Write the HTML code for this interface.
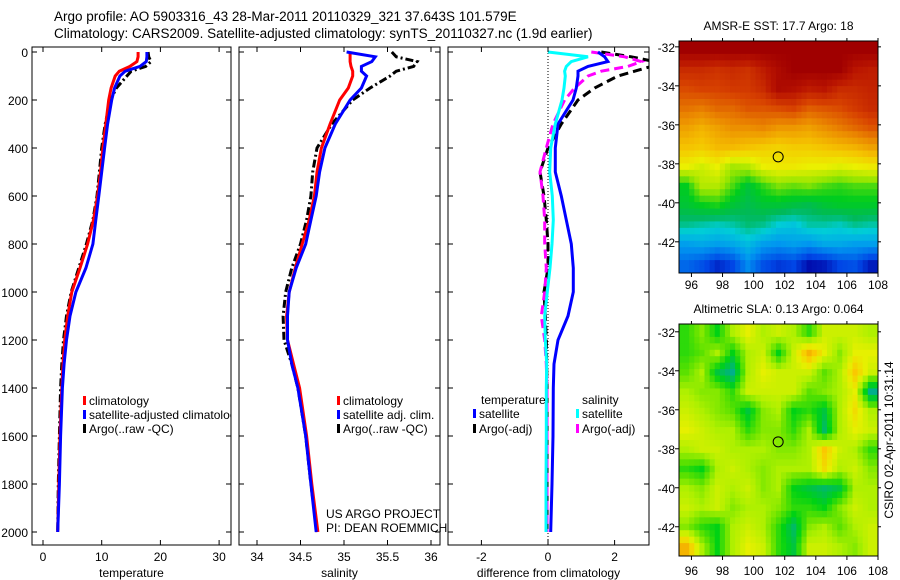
<!DOCTYPE html>
<html><head><meta charset="utf-8"><style>
html,body{margin:0;padding:0;background:#fff}
svg{display:block;font-family:"Liberation Sans","DejaVu Sans",sans-serif}
</style></head><body>
<svg id="fig" width="900" height="580" viewBox="0 0 900 580" xmlns="http://www.w3.org/2000/svg">
<defs>
<clipPath id="c1"><rect x="32" y="47" width="199" height="498"/></clipPath>
<clipPath id="c2"><rect x="239" y="47" width="201" height="498"/></clipPath>
<clipPath id="c3"><rect x="448" y="47" width="201" height="498"/></clipPath>
</defs>
<text x="54" y="21" font-size="13.5">Argo profile: AO 5903316_43 28-Mar-2011 20110329_321 37.643S 101.579E</text>
<text x="54" y="38" font-size="13.5">Climatology: CARS2009. Satellite-adjusted climatology: synTS_20110327.nc (1.9d earlier)</text>
<g id="g1"></g>
<g id="g2"></g>
<g id="g3"></g>
<g id="m1"></g>
<g id="m2"></g>
<text transform="translate(893,440) rotate(-90)" text-anchor="middle" font-size="12">CSIRO 02-Apr-2011 10:31:14</text>
</svg>
<script>
const depths = [0,20,40,60,80,100,150,200,300,400,500,600,700,800,900,1000,1100,1200,1300,1400,1600,1800,2000];
const tempClim = [16.2,16.2,16,14.8,13,12.3,11.6,11.2,10.7,10.2,9.8,9.3,8.6,7.6,6.3,4.9,4.2,3.7,3.4,3.2,2.9,2.7,2.5];
const tempSat = [17.7,17.7,17.6,16.5,14,13.1,12.2,11.7,11,10.5,10,9.5,9,8.5,7.3,5.6,4.6,4.0,3.6,3.3,3.0,2.8,2.5];
const tempArgo = [17.9,18.0,18.4,17.5,15,14.3,12.5,11.5,10.6,10.0,9.6,9.2,8.5,7.4,6.1,4.8,4.0,3.5,3.2,3.0,2.8,2.6,2.5];
const salClim = [35.07,35.07,35.07,35.08,35.1,35.1,35.05,34.95,34.84,34.74,34.69,34.66,34.6,34.52,34.44,34.37,34.34,34.35,34.42,34.49,34.57,34.63,34.70];
const salSat = [35.03,35.36,35.32,35.2,35.2,35.26,35.2,35.07,34.9,34.78,34.72,34.68,34.62,34.56,34.45,34.37,34.35,34.35,34.40,34.47,34.56,34.62,34.68];
const salArgo = [35.55,35.6,35.84,35.8,35.6,35.53,35.3,35.1,34.86,34.69,34.64,34.62,34.57,34.5,34.4,34.33,34.3,34.31,34.4,34.47,34.56,34.62,34.69];
const tempSatDiff = [1.5,1.7,1.8,1.2,0.9,0.9,0.85,0.75,0.3,0.22,0.22,0.4,0.55,0.7,0.76,0.76,0.6,0.3,0.18,0.16,0.15,0.12,0.08];
const tempArgoDiff = [1.6,2.5,3.2,3.1,2.6,2.1,1.4,0.9,0.4,0.0,-0.24,-0.12,-0.05,0.0,0.0,-0.12,-0.08,-0.05,-0.04,-0.03,-0.03,-0.03,-0.03];
const salSatDiff = [0,1.2,0.7,0.55,0.5,0.52,0.48,0.42,0.22,0.08,0.05,0.13,0.16,0.12,0.06,-0.02,-0.1,-0.08,-0.04,-0.05,-0.05,-0.06,-0.06];
const salArgoDiff = [1.3,2.3,2.8,2.4,1.6,1.2,0.8,0.5,0.15,-0.05,-0.24,-0.15,-0.1,-0.1,-0.05,-0.1,-0.2,-0.1,-0.05,-0.03,-0.03,-0.03,-0.03];
const depthTicks = [0,200,400,600,800,1000,1200,1400,1600,1800,2000];
const tempTicks = [0,10,20,30];
const salTicks = [34,34.5,35,35.5,36];
const diffTicks = [-2,0,2];
const lonTicks = [96,98,100,102,104,106,108];
const latTicks = [-32,-34,-36,-38,-40,-42];
const sstGrid = [
[20,20,20,20,20,20,20,20,20,20,20,20,20],
[19.3,19.3,19.2,19.3,19.2,19.5,19.8,20,20,20,20,19.6,19.5],
[18.9,19,19,19.1,19.1,19.3,19.8,19.7,19.5,19.6,19.3,19.3,19.4],
[18.5,18.4,18.6,18.6,18.8,18.8,18.9,19,18.7,18.8,18.9,19.1,19.3],
[18,17.8,18,18.2,18.2,18.3,18.1,18.1,18,18.2,18.4,18.6,18.8],
[17.6,17.5,17.7,17.7,17.6,17.5,17.4,17.5,17.5,17.6,17.7,17.8,18],
[17,16.8,17,16.5,16.6,17,17.1,17.1,17,17,16.9,17,17.1],
[15.8,16.6,16.6,16.1,15.6,16,16.3,16.2,16.3,16.1,16,16.1,16.1],
[15.6,15.8,15.9,15.6,15.4,15.6,15.6,15.5,15.4,15.6,15.7,15.7,15.7],
[15.1,15,14.9,15,15.2,15.1,14.8,14.7,15,15,14.9,15.1,15],
[14.3,14.4,14.3,14.4,14.6,14.3,14.2,14.3,14.2,14.4,14.4,14.3,14.3],
[13.8,13.6,13.3,13.5,14.1,13.6,13.4,13.5,13.1,13.2,13.5,13.6,13.2]];
const slaGrid = [
[-0.1,0,-0.15,0.05,0.15,0.05,0.1,0.05,-0.1,0.1,0.1,0.1,0.05],
[-0.1,-0.05,0.05,-0.15,0.05,0.1,-0.15,0.1,0.3,0.15,0,0.15,0.15],
[-0.05,0.05,-0.2,-0.3,0.05,0.15,0.1,0.1,0.1,-0.05,0.05,0.25,0.1],
[0.05,0,0,-0.1,0.1,0.1,0.1,0.1,-0.05,0,0.05,0.15,-0.3],
[0.1,0.05,0,-0.05,-0.2,0,0.05,-0.15,-0.1,-0.2,0.05,0.2,0.05],
[0.15,0.1,0.05,0.05,-0.1,0,0,-0.1,0.05,-0.25,0.05,0.15,0.1],
[0.05,0.1,0.1,0.05,0.05,0.05,0,0,0.05,0.25,0.1,0.05,-0.1],
[-0.1,-0.15,0.05,0.1,0.05,0,0.05,0.05,0.05,0.2,0.05,0.1,0],
[0.05,0,0.1,0.05,0.1,0,0.05,-0.15,-0.2,-0.25,-0.2,0.05,0.05],
[0.1,0.05,0.1,0,0.05,0.05,0,-0.1,-0.1,-0.15,0,0.1,0.05],
[0,-0.1,-0.15,0.05,0.1,0.05,-0.1,-0.25,0,0.05,-0.05,0.05,0.1],
[0.3,0.05,-0.15,0.05,0.15,0.1,-0.1,-0.2,0.1,0.1,0.05,0,0.1]];
const argoLon = 101.579, argoLat = -37.643;

const NS="http://www.w3.org/2000/svg";
function mk(parent,tag,attrs,text){const e=document.createElementNS(NS,tag);for(const k in attrs)e.setAttribute(k,attrs[k]);if(text!==undefined)e.textContent=text;parent.appendChild(e);return e;}
const yD = d => 52 + d*0.24;
const xT = v => 43 + v*5.87;
const xS = v => 257 + (v-34)*87;
const xDf = v => 548 + v*33.3;

function panel(g,x0,x1){ mk(g,'rect',{x:x0,y:47,width:x1-x0,height:498,fill:'#fff'}); }
function frame(g,x0,x1,xf,ticks,label,showYLabels){
  const fr=mk(g,'rect',{x:x0,y:47,width:x1-x0,height:498,fill:'none',stroke:'#000','stroke-width':1});
  
  
  depthTicks.forEach(d=>{
    const y=yD(d);
    mk(g,'line',{x1:x0,y1:y,x2:x0+5,y2:y,stroke:'#000'});
    mk(g,'line',{x1:x1-5,y1:y,x2:x1,y2:y,stroke:'#000'});
    if(showYLabels){
      const t=mk(g,'text',{x:28,y:y+5,'text-anchor':'end','font-size':12},String(d));
      
      
    }
  });
  ticks.forEach(v=>{
    const x=xf(v);
    mk(g,'line',{x1:x,y1:545,x2:x,y2:540,stroke:'#000'});
    mk(g,'line',{x1:x,y1:47,x2:x,y2:52,stroke:'#000'});
    const t=mk(g,'text',{x:x,y:561,'text-anchor':'middle','font-size':12},String(v));
    
    
  });
  const l=mk(g,'text',{x:(x0+x1)/2,y:577,'text-anchor':'middle','font-size':12},label);
  
  
}
function line(g,vals,xf,color,dash,name,clip){
  const pts=vals.map((v,i)=>xf(v).toFixed(1)+','+yD(depths[i]).toFixed(1)).join(' ');
  const p=mk(g,'polyline',{points:pts,fill:'none',stroke:color,'stroke-width':3,'clip-path':'url(#'+clip+')'});
  if(dash)p.setAttribute('stroke-dasharray',dash);
  
  
}
function legend(g,x,y,color,text,name){
  mk(g,'rect',{x:x,y:y-8,width:3,height:9,fill:color});
  const t=mk(g,'text',{x:x+6,y:y+1,'font-size':12},text);
  
  
}
const g1=document.getElementById('g1');
panel(g1,32,231);
line(g1,tempArgo,xT,'#000','8,3,2,3','argo-temperature-line','c1');
line(g1,tempClim,xT,'#f00',null,'climatology-temperature-line','c1');
line(g1,tempSat,xT,'#00f',null,'satellite-temperature-line','c1');
const lg1=mk(g1,'g',{'clip-path':'url(#c1)'});
legend(lg1,83,404,'#f00','climatology','legend-climatology');
legend(lg1,83,418,'#00f','satellite-adjusted climatology','legend-satellite');
legend(lg1,83,432,'#000','Argo(..raw -QC)','legend-argo');
frame(g1,32,231,xT,tempTicks,'temperature',true);
const g2=document.getElementById('g2');
panel(g2,239,440);
line(g2,salArgo,xS,'#000','8,3,2,3','argo-salinity-line','c2');
line(g2,salClim,xS,'#f00',null,'climatology-salinity-line','c2');
line(g2,salSat,xS,'#00f',null,'satellite-salinity-line','c2');
legend(g2,337,404,'#f00','climatology','legend-climatology');
legend(g2,337,418,'#00f','satellite adj. clim.','legend-satellite');
legend(g2,337,432,'#000','Argo(..raw -QC)','legend-argo');
frame(g2,239,440,xS,salTicks,'salinity',false);
let t=mk(g2,'text',{x:326,y:518,'font-size':12},'US ARGO PROJECT');


t=mk(g2,'text',{x:326,y:532,'font-size':12},'PI: DEAN ROEMMICH');


const g3=document.getElementById('g3');
panel(g3,448,649);
mk(g3,'line',{x1:xDf(0),y1:47,x2:xDf(0),y2:545,stroke:'#000','stroke-dasharray':'1,2'});
line(g3,tempArgoDiff,xDf,'#000','9,5','argo-temperature-diff','c3');
line(g3,salArgoDiff,xDf,'#f0f','9,5','argo-salinity-diff','c3');
line(g3,tempSatDiff,xDf,'#00f',null,'satellite-temperature-diff','c3');
line(g3,salSatDiff,xDf,'#0ff',null,'satellite-salinity-diff','c3');
t=mk(g3,'text',{x:481,y:404,'font-size':12},'temperature');
t=mk(g3,'text',{x:582,y:404,'font-size':12},'salinity');
legend(g3,473,417,'#00f','satellite','legend-temp-satellite');
legend(g3,473,432,'#000','Argo(-adj)','legend-temp-argo');
legend(g3,576,417,'#0ff','satellite','legend-sal-satellite');
legend(g3,576,432,'#f0f','Argo(-adj)','legend-sal-argo');
frame(g3,448,649,xDf,diffTicks,'difference from climatology',false);

function interp(stops,v){
  if(v<=stops[0][0])return stops[0][1];
  for(let i=1;i<stops.length;i++){
    if(v<=stops[i][0]){const a=stops[i-1],b=stops[i],f=(v-a[0])/(b[0]-a[0]);
      return a[1].map((c,k)=>Math.round(c+(b[1][k]-c)*f));}
  }
  return stops[stops.length-1][1];
}
const sstStops=[[13,[0,0,160]],[13.5,[0,70,230]],[14.2,[0,150,240]],[14.8,[0,205,215]],[15.3,[0,185,90]],[15.8,[0,205,30]],[16.4,[150,230,0]],[17,[235,240,0]],[17.6,[245,195,0]],[18.3,[235,135,0]],[19,[215,65,0]],[19.6,[185,20,0]],[20,[160,0,0]]];
const slaStops=[[-0.3,[0,175,140]],[-0.15,[0,210,20]],[-0.05,[90,225,0]],[0.05,[175,240,0]],[0.15,[230,240,0]],[0.25,[250,200,0]],[0.35,[240,160,0]]];
function sample(grid,fr,fc){
  const R=grid.length,C=grid[0].length;
  const r=Math.max(0,Math.min(R-1,fr)),c=Math.max(0,Math.min(C-1,fc));
  const r0=Math.floor(r),c0=Math.floor(c),r1=Math.min(R-1,r0+1),c1=Math.min(C-1,c0+1);
  const a=r-r0,b=c-c0;
  return grid[r0][c0]*(1-a)*(1-b)+grid[r0][c1]*(1-a)*b+grid[r1][c0]*a*(1-b)+grid[r1][c1]*a*b;
}
function map(id,grid,stops,top,latTop,latBot,title,bottomY){
  const g=document.getElementById(id);
  const x0=679,x1=878,bot=top+232;
  const xL=lon=>x0+(lon-95.2)*(x1-x0)/12.8;
  const yL=lat=>top+(latTop-lat)*(bot-top)/(latTop-latBot);
  const R=grid.length,C=grid[0].length,S=3;
  const cw=(x1-x0)/(C*S),ch=(bot-top)/(R*S);
  for(let i=0;i<R*S;i++)for(let j=0;j<C*S;j++){
    const v=sample(grid,(i+0.5)/S-0.5,(j+0.5)/S-0.5);
    const col=interp(stops,v);
    const cell=mk(g,'rect',{x:(x0+j*cw).toFixed(2),y:(top+i*ch).toFixed(2),width:(cw+0.5).toFixed(2),height:(ch+0.5).toFixed(2),fill:'rgb('+col.join(',')+')'});
    
    
  }
  const fr=mk(g,'rect',{x:x0,y:top,width:x1-x0,height:bot-top,fill:'none',stroke:'#000'});
  
  
  lonTicks.forEach(l=>{const x=xL(l);
    mk(g,'line',{x1:x,y1:bot,x2:x,y2:bot+4,stroke:'#000'});
    mk(g,'line',{x1:x,y1:top,x2:x,y2:top-3,stroke:'#000'});
    const tt=mk(g,'text',{x:x,y:bottomY,'text-anchor':'middle','font-size':12},String(l));
    
    });
  latTicks.forEach(l=>{const y=yL(l);
    mk(g,'line',{x1:x0-4,y1:y,x2:x0,y2:y,stroke:'#000'});
    mk(g,'line',{x1:x1,y1:y,x2:x1+3,y2:y,stroke:'#000'});
    const tt=mk(g,'text',{x:x0-4,y:y+5,'text-anchor':'end','font-size':12},String(l));
    
    });
  const c=mk(g,'circle',{cx:xL(argoLon),cy:yL(argoLat),r:5,fill:'none',stroke:'#000','stroke-width':1});
  
  
  const tt=mk(g,'text',{x:(x0+x1)/2,y:top-11,'text-anchor':'middle','font-size':12},title);
  
  
}
map('m1',sstGrid,sstStops,41,-31.7,-43.6,'AMSR-E SST: 17.7 Argo: 18',289);
map('m2',slaGrid,slaStops,324,-31.6,-43.5,'Altimetric SLA: 0.13 Argo: 0.064',575);
</script>
</body></html>
